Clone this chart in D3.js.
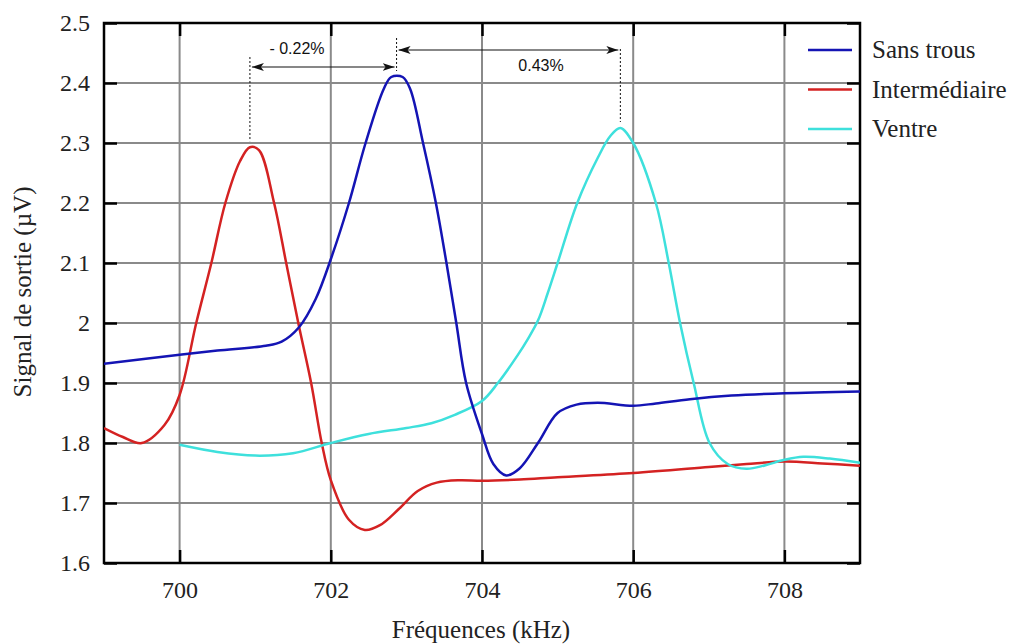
<!DOCTYPE html>
<html><head><meta charset="utf-8">
<script src="https://cdn.jsdelivr.net/npm/d3@7"></script>
<style>body{margin:0;background:#fff}svg{display:block}</style>
</head><body>
<script>
// Data
const freqBlue = [699,700,700.5,701.14,701.35,701.58,701.8,702.01,702.24,702.46,702.7,702.8,702.95,703.05,703.22,703.39,703.53,703.66,703.79,704,704.15,704.32,704.5,704.74,705,705.25,705.53,706,706.3,706.75,707.3,708,709];
const sansTrous = [1.932,1.947,1.954,1.962,1.969,1.993,2.04,2.11,2.2,2.3,2.39,2.41,2.41,2.39,2.3,2.2,2.1,2.0,1.9,1.815,1.765,1.746,1.758,1.8,1.85,1.864,1.867,1.862,1.866,1.873,1.879,1.883,1.886];
const freqRed = [699,699.25,699.5,699.8,700,700.22,700.42,700.605,700.8,700.93,701.05,701.25,701.41,701.57,701.74,701.88,702,702.24,702.45,702.65,702.9,703.15,703.4,703.7,704,704.5,705,706,707,707.5,708,708.5,709];
const intermediaire = [1.825,1.81,1.8,1.83,1.88,2.0,2.1,2.2,2.27,2.293,2.288,2.2,2.1,2.0,1.9,1.8,1.738,1.672,1.655,1.663,1.69,1.72,1.734,1.738,1.737,1.739,1.743,1.75,1.76,1.765,1.769,1.766,1.762];
const freqCyan = [700,700.5,701,701.5,702,702.5,703,703.33,703.64,704,704.21,704.47,704.6,704.74,704.87,705,705.26,705.53,705.7,705.83,706,706.3,706.47,706.62,706.8,707.01,707.25,707.5,707.75,708,708.25,708.6,709];
const ventre = [1.797,1.785,1.779,1.783,1.8,1.815,1.825,1.833,1.847,1.87,1.9,1.946,1.972,2.004,2.05,2.1,2.2,2.275,2.312,2.325,2.3,2.2,2.1,2.0,1.9,1.8,1.765,1.757,1.763,1.772,1.777,1.774,1.767];
const xTicks = [700,702,704,706,708];
const yTicks = [1.6,1.7,1.8,1.9,2,2.1,2.2,2.3,2.4,2.5];
const seriesNames = ["Sans trous","Intermédiaire","Ventre"];
const seriesColors = ["#1414b4","#d42222","#3ee0dc"];
const peakFreqs = [700.93,702.87,705.83];
const peakVals = [2.293,2.41,2.325];
const shiftLabels = ["- 0.22%","0.43%"];

const W=1013,H=644;
const m={l:104,r:860,t:23,b:563};
const SERIF="Liberation Serif", SANS="Liberation Sans";
const svg=d3.select("body").append("svg").attr("width",W).attr("height",H);
const x=d3.scaleLinear().domain([699,709]).range([m.l,m.r]);
const y=d3.scaleLinear().domain([1.6,2.5]).range([m.b,m.t]);

// grid
const g=svg.append("g");
g.selectAll(".gx").data(xTicks).join("line").attr("x1",d=>x(d)).attr("x2",d=>x(d)).attr("y1",m.t).attr("y2",m.b).attr("stroke","#8a8a8a").attr("stroke-width",2);
g.selectAll(".gy").data(yTicks.slice(1,-1)).join("line").attr("y1",d=>y(d)).attr("y2",d=>y(d)).attr("x1",m.l).attr("x2",m.r).attr("stroke","#8a8a8a").attr("stroke-width",2);

// inner ticks
const tl=13;
function styleAxis(a){
  a.attr("font-family",SERIF).attr("font-size",24);
  a.select(".domain").remove();
  a.selectAll("line").attr("stroke","#000").attr("stroke-width",2.5);
  a.selectAll("text").attr("fill","#222");
}
svg.append("g").attr("transform",`translate(0,${m.b})`).call(d3.axisBottom(x).tickValues(xTicks).tickSize(-tl).tickFormat(d3.format("d")).tickPadding(18)).call(styleAxis);
svg.append("g").attr("transform",`translate(0,${m.t})`).call(d3.axisTop(x).tickValues(xTicks).tickSize(-tl).tickFormat("")).call(styleAxis);
svg.append("g").attr("transform",`translate(${m.l},0)`).call(d3.axisLeft(y).tickValues(yTicks).tickSize(-tl).tickFormat(d=>d===2?"2":d3.format(".1f")(d)).tickPadding(14)).call(styleAxis);
svg.append("g").attr("transform",`translate(${m.r},0)`).call(d3.axisRight(y).tickValues(yTicks).tickSize(-tl).tickFormat("")).call(styleAxis);

// frame
svg.append("rect").attr("x",m.l).attr("y",m.t).attr("width",m.r-m.l).attr("height",m.b-m.t).attr("fill","none").attr("stroke","#000").attr("stroke-width",2.5);

// lines
svg.append("clipPath").attr("id","c").append("rect").attr("x",m.l).attr("y",m.t).attr("width",m.r-m.l).attr("height",m.b-m.t);
const line=d3.line().x(d=>x(d[0])).y(d=>y(d[1])).curve(d3.curveCatmullRom.alpha(0.5));
const data=[d3.zip(freqBlue,sansTrous),d3.zip(freqRed,intermediaire),d3.zip(freqCyan,ventre)];
[1,2,0].forEach(i=>{
  svg.append("path").attr("d",line(data[i])).attr("fill","none").attr("stroke",seriesColors[i]).attr("stroke-width",2.5).attr("stroke-linejoin","round").attr("clip-path","url(#c)");
});

// legend
const legY=[58,97.5,137];
seriesNames.forEach((n,i)=>{
  const yy=legY[i]-8;
  svg.append("line").attr("x1",808).attr("x2",852).attr("y1",yy).attr("y2",yy).attr("stroke",seriesColors[i]).attr("stroke-width",2.5);
  svg.append("text").attr("x",872).attr("y",legY[i]).attr("font-family",SERIF).attr("font-size",25).attr("fill","#222").text(n);
});

// annotations
const defs=svg.append("defs");
defs.append("marker").attr("id","ah").attr("viewBox","0 0 12 8").attr("refX",12).attr("refY",4).attr("markerWidth",12).attr("markerHeight",8).attr("markerUnits","userSpaceOnUse").attr("orient","auto-start-reverse")
  .append("path").attr("d","M0,0 L12,4 L0,8 L3,4 Z").attr("fill","#111");
const dotTops=[57,38,49];
peakFreqs.forEach((f,i)=>{
  svg.append("line").attr("x1",x(f)).attr("x2",x(f)).attr("y1",dotTops[i]).attr("y2",y(peakVals[i])-6).attr("stroke","#111").attr("stroke-width",1).attr("stroke-dasharray","2,2");
});
const arrY=[67,50];
[[0,1],[1,2]].forEach(([a,b],k)=>{
  svg.append("line").attr("x1",x(peakFreqs[a])+2).attr("x2",x(peakFreqs[b])-2).attr("y1",arrY[k]).attr("y2",arrY[k]).attr("stroke","#111").attr("stroke-width",1.2)
    .attr("marker-start","url(#ah)").attr("marker-end","url(#ah)");
});
svg.append("text").attr("x",297).attr("y",48).attr("dy","0.35em").attr("text-anchor","middle").attr("font-family",SANS).attr("font-size",16).attr("fill","#111").text(shiftLabels[0]);
svg.append("text").attr("x",541).attr("y",65).attr("dy","0.35em").attr("text-anchor","middle").attr("font-family",SANS).attr("font-size",16).attr("fill","#111").text(shiftLabels[1]);

// axis titles
svg.append("text").attr("x",481).attr("y",638).attr("text-anchor","middle").attr("font-family",SERIF).attr("font-size",25).attr("fill","#222").text("Fréquences (kHz)");
svg.append("text").attr("transform",`translate(31,292) rotate(-90)`).attr("text-anchor","middle").attr("font-family",SERIF).attr("font-size",25).attr("fill","#222").text("Signal de sortie (µV)");
</script>
</body></html>
